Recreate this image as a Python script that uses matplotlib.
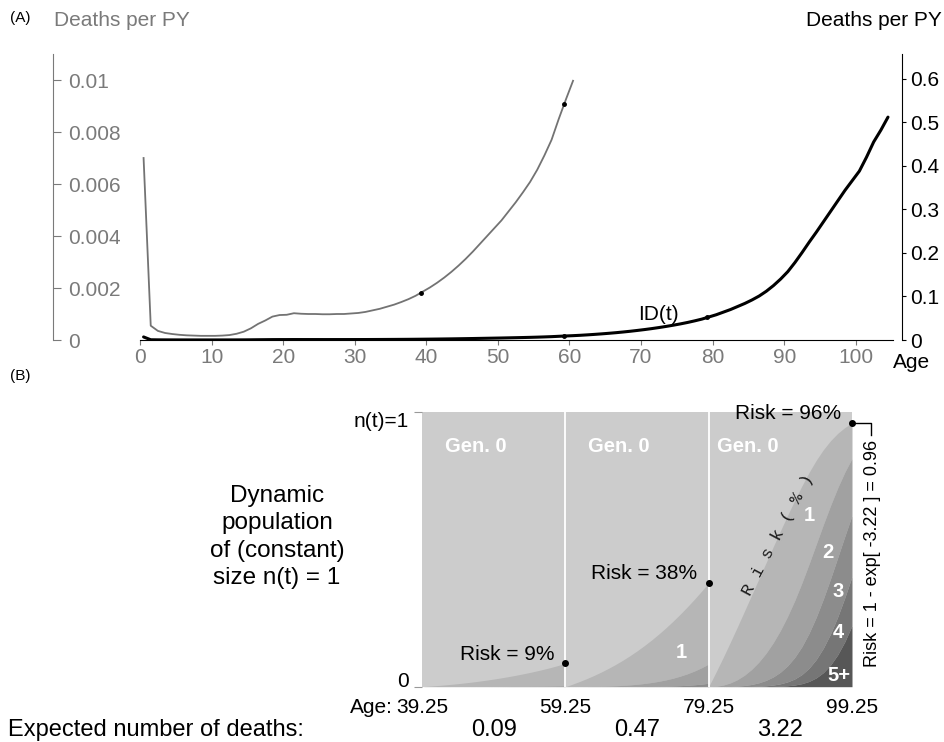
import numpy as np
import matplotlib
matplotlib.use("Agg")
import matplotlib.pyplot as plt
from math import factorial

plt.rcParams["font.family"] = ["Liberation Sans", "DejaVu Sans"]

# incidence density of death (deaths per person-year) at ages 0.5, 1.5, ..., 104.5
age = np.arange(0.5, 105, 1.0)
rate = [
    0.0070, 0.00055, 0.00035, 0.00027, 0.00023, 0.00020, 0.00018, 0.00017, 0.00016, 0.00016,
    0.00016, 0.00017, 0.00019, 0.00024, 0.00032, 0.00045, 0.00062, 0.00075, 0.00090, 0.00096,
    0.00097, 0.00103, 0.00101, 0.00100, 0.00100, 0.00099, 0.00099, 0.00100, 0.00100, 0.00102,
    0.00104, 0.00108, 0.00114, 0.00120, 0.00128, 0.00136, 0.00146, 0.00157, 0.00170, 0.00186,
    0.00202, 0.00220, 0.00240, 0.00262, 0.00286, 0.00312, 0.00340, 0.00370, 0.00400, 0.00430,
    0.00460, 0.00495, 0.00530, 0.00568, 0.00608, 0.00655, 0.00710, 0.00770, 0.00850, 0.00925,
    0.00997, 0.0108, 0.0118, 0.0129, 0.0141, 0.0154, 0.0168, 0.0184, 0.0201, 0.0220,
    0.0240, 0.0262, 0.0286, 0.0312, 0.0340, 0.0370, 0.0403, 0.0440, 0.0480, 0.0530,
    0.058, 0.064, 0.070, 0.077, 0.084, 0.092, 0.101, 0.112, 0.125, 0.140,
    0.157, 0.178, 0.201, 0.225, 0.248, 0.272, 0.296, 0.320, 0.344, 0.366,
    0.388, 0.420, 0.455, 0.482, 0.512,
]
grey_max_age = 60.5

x_ticks = list(range(0, 101, 10))
left_ticks = [0, 0.002, 0.004, 0.006, 0.008, 0.01]
left_labels = ["0", "0.002", "0.004", "0.006", "0.008", "0.01"]
right_ticks = [0, 0.1, 0.2, 0.3, 0.4, 0.5, 0.6]
right_labels = ["0", "0.1", "0.2", "0.3", "0.4", "0.5", "0.6"]

# panel B: three 20-year windows
seg_edges = [39.25, 59.25, 79.25, 99.25]
seg_labels = ["39.25", "59.25", "79.25", "99.25"]
expected_deaths = ["0.09", "0.47", "3.22"]
risk_labels = ["Risk = 9%", "Risk = 38%", "Risk = 96%"]
gen_colors = ["#cccccc", "#b6b6b6", "#a1a1a1", "#8c8c8c", "#767676", "#575757"]

GREY = "#7a7a7a"
W, H = 945, 742

rate = np.array(rate)

fig = plt.figure(figsize=(W / 100, H / 100), dpi=100)

# ---------------- panel A ----------------
ax = fig.add_axes([140 / W, 1 - 340 / H, (893 - 140) / W, (340 - 54) / H])
axr = ax.twinx()

# spine positions first: moving a spine resets its ticks
for s in ["top", "right"]:
    ax.spines[s].set_visible(False)
ax.spines["left"].set_position(("outward", 62.6))
ax.spines["left"].set_color(GREY)
ax.spines["bottom"].set_color("black")
for s in ["top", "left", "bottom"]:
    axr.spines[s].set_visible(False)
axr.spines["right"].set_position(("outward", 6.5))

keep = age <= grey_max_age
ax.plot(age[keep], rate[keep], color="#737373", lw=1.3)
axr.plot(age, rate, color="black", lw=2.2, solid_capstyle="round")

# dots where the windows start / end
ax.plot(seg_edges[:2], np.interp(seg_edges[:2], age, rate), "o", color="black", ms=2.5)
axr.plot(seg_edges[1:3], np.interp(seg_edges[1:3], age, rate), "o", color="black", ms=2.5)

ax.set_xlim(0, 105.2)
ax.set_ylim(0, 0.011)
axr.set_ylim(0, 0.657)

ax.set_xticks(x_ticks)
ax.set_xticklabels([str(t) for t in x_ticks])
ax.tick_params(axis="x", colors=GREY, labelsize=15, length=3.6, pad=2)

ax.set_yticks(left_ticks)
ax.set_yticklabels(left_labels, ha="left")
ax.tick_params(axis="y", colors=GREY, labelsize=15, direction="in", length=6, pad=-10.5)

axr.set_yticks(right_ticks)
axr.set_yticklabels(right_labels)
axr.tick_params(axis="y", colors="black", labelsize=15, length=3, pad=2.5)

axr.text(69.6, 0.0575, "ID(t)", fontsize=15, ha="left", va="center")
ax.annotate("Age", xy=(1, 0), xycoords="axes fraction", xytext=(0, -9),
            textcoords="offset points", ha="left", va="top", fontsize=15)

fig.text(10 / W, 1 - 18 / H, "(A)", fontsize=11, ha="left", va="center")
fig.text(54 / W, 1 - 20 / H, "Deaths per PY", fontsize=15, color=GREY, ha="left", va="center")
fig.text(942 / W, 1 - 20 / H, "Deaths per PY", fontsize=15, ha="right", va="center")

# ---------------- panel B ----------------
axb = fig.add_axes([422 / W, 1 - 686.7 / H, 430 / W, 274.7 / H])
axb.set_facecolor(gen_colors[0])
axb.set_xlim(seg_edges[0], seg_edges[-1])
axb.set_ylim(0, 1)
for s in axb.spines.values():
    s.set_visible(False)

ends = []
for i in range(3):
    start = seg_edges[i]
    i0 = int(start)
    t = start + np.arange(21)
    lam = np.concatenate([[0.0], np.cumsum(rate[i0:i0 + 20])])
    # probability of at least k deaths, k = 1..5
    tails = []
    for k in range(1, 6):
        cdf = sum(np.exp(-lam) * lam ** j / factorial(j) for j in range(k))
        tails.append(1 - cdf)
    for k in range(1, 5):
        axb.fill_between(t, tails[k], tails[k - 1], color=gen_colors[k], lw=0)
    axb.fill_between(t, 0, tails[4], color=gen_colors[5], lw=0)
    ends.append(tails[0][-1])

for e in seg_edges[1:3]:
    axb.axvline(e, color="white", lw=1.3)

for i in range(3):
    axb.plot(seg_edges[i + 1], ends[i], "o", color="black", ms=4, clip_on=False, zorder=5)
    axb.annotate(risk_labels[i], xy=(seg_edges[i + 1], ends[i]), xytext=(-8, 6.5),
                 textcoords="offset points", ha="right", va="center", fontsize=15)

gen0_offsets = [7.5, 7.5, 5.4]
for i in range(3):
    axb.text(seg_edges[i] + gen0_offsets[i], 0.876, "Gen. 0", color="white",
             fontsize=14.5, fontweight="bold", ha="center", va="center")

gen_text_kw = dict(color="white", fontsize=14.5, fontweight="bold", ha="center", va="center")
axb.text(75.4, 0.123, "1", **gen_text_kw)
for lab, xx, yy in [("1", 93.25, 0.625), ("2", 95.9, 0.487), ("3", 97.3, 0.345),
                    ("4", 97.3, 0.199), ("5+", 97.4, 0.039)]:
    axb.text(xx, yy, lab, **gen_text_kw)

axb.text(88.9, 0.552, "R i s k ( % )", family=["Liberation Mono", "DejaVu Sans Mono"],
         fontsize=12.5, rotation=62, ha="center", va="center", color="#1a1a1a")

# bracket to the formula
bx = seg_edges[-1] + 2.65
axb.plot([seg_edges[-1], bx, bx], [ends[2], ends[2], ends[2] - 0.045],
         color="black", lw=1, clip_on=False)
axb.text(seg_edges[-1] + 2.93, 0.898, "Risk = 1 - exp[ -3.22 ] = 0.96", rotation=90,
         ha="center", va="top", fontsize=13)

axb.set_yticks([0, 1])
axb.set_yticklabels(["0", "n(t)=1"])
axb.tick_params(axis="y", colors="#999999", labelcolor="black", length=5.8, pad=4, labelsize=15)
ylabs = axb.get_yticklabels()
ylabs[0].set_va("baseline")
ylabs[1].set_va("top")

axb.set_xticks(seg_edges)
axb.set_xticklabels(seg_labels)
axb.tick_params(axis="x", length=0, pad=8, labelsize=15)
axb.text(-0.067, -0.041, "Age:", transform=axb.transAxes, ha="right", va="top", fontsize=15)

xt = axb.get_xaxis_transform()
for i in range(3):
    mid = (seg_edges[i] + seg_edges[i + 1]) / 2
    axb.text(mid, -0.158, expected_deaths[i], transform=xt, ha="center", va="center", fontsize=17)

fig.text(8 / W, 1 - 730 / H, "Expected number of deaths:", fontsize=17, ha="left", va="center")
fig.text(10 / W, 1 - 376 / H, "(B)", fontsize=11, ha="left", va="center")
fig.text(277 / W, 1 - 537 / H, "Dynamic\npopulation\nof (constant)\nsize n(t) = 1",
         fontsize=17.5, ha="center", va="center", multialignment="center", linespacing=1.33)

fig.savefig("out.png", dpi=100)
